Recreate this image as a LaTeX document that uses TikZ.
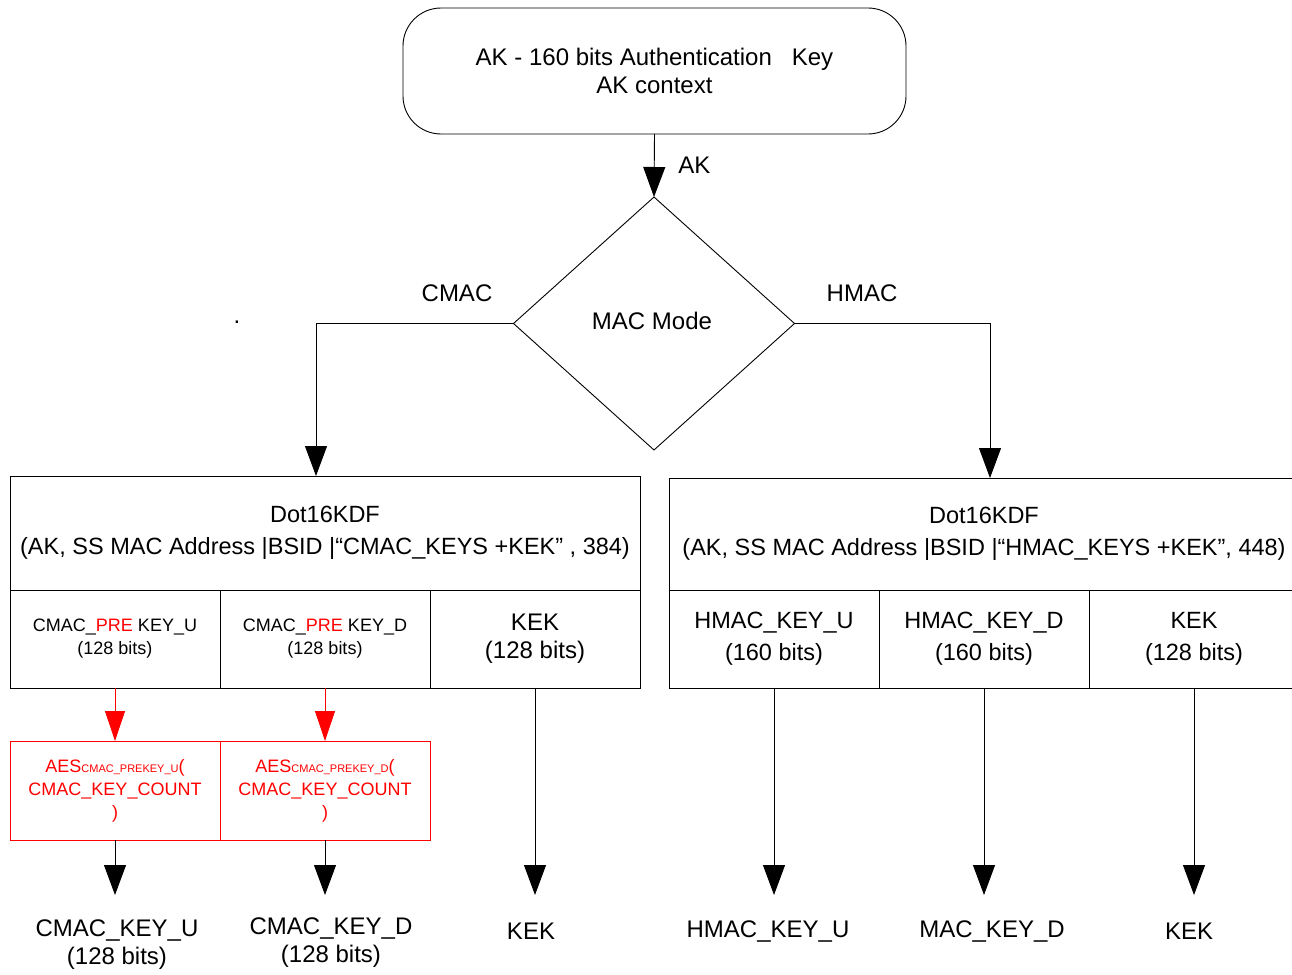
\documentclass[tikz,border=0pt]{standalone}
\usepackage{fontspec}
\setmainfont{Liberation Sans}
\usetikzlibrary{arrows.meta,shapes.geometric}
\begin{document}
\begin{tikzpicture}[x=1pt,y=-1pt,
  every node/.style={inner sep=0pt, outer sep=0pt, align=center},
  big/.style={font=\fontsize{24}{28}\selectfont},
  bigwide/.style={font=\fontsize{23.5}{32}\selectfont},
  small/.style={font=\fontsize{18}{23}\selectfont},
  box/.style={draw, line width=0.9pt, rectangle, anchor=north west},
  cell/.style={box, minimum width=210pt, minimum height=98pt},
  redcell/.style={box, draw=red, text=red, small, minimum width=210pt, minimum height=99pt},
  arr/.style={draw, line width=0.9pt, -{Triangle[length=30pt,width=22pt]}},
  rarr/.style={draw=red, line width=0.9pt, -{Triangle[length=30pt,width=20pt]}, red}]
\useasboundingbox (0,0) rectangle (1292,974);

% top context box
\node[draw, line width=0.9pt, rounded corners=38pt, minimum width=503pt, minimum height=126pt, big] (ak) at (654.5,71)
  {AK - 160 bits Authentication\ \ \ Key\\AK context};

% diamond
\node[draw, line width=0.9pt, diamond, minimum width=281pt, minimum height=253pt] (mode) at (654,323.5) {};
\node[big] (modetxt) at (652,321) {MAC Mode};

\draw[arr] (ak.south) -- (mode.north) node[pos=0.5, right=24pt, big] (aklbl) {AK};

\node[big] (cmaclbl) at (457,293) {CMAC};
\node[big] (hmaclbl) at (862,293) {HMAC};
\node[big] (dot) at (237,322) {.};

% left KDF block
\node[box, minimum width=630pt, minimum height=114pt, bigwide] (lhead) at (10,476)
  {Dot16KDF\\(AK, SS MAC Address |BSID |“CMAC\_KEYS +KEK” , 384)};
\node[cell, small] (cpu) at (10,590) {CMAC\_{\color{red}PRE} KEY\_U\\(128 bits)};
\node[cell, small] (cpd) at (220,590) {CMAC\_{\color{red}PRE} KEY\_D\\(128 bits)};
\node[cell, big] (ckek) at (430,590) {KEK\\(128 bits)};

% right KDF block
\node[box, minimum width=630pt, minimum height=112pt, bigwide] (rhead) at (669,478)
  {Dot16KDF\\(AK, SS MAC Address |BSID |“HMAC\_KEYS +KEK”, 448)};
\node[cell, bigwide] (hku) at (669,590) {HMAC\_KEY\_U\\(160 bits)};
\node[cell, bigwide] (hkd) at (879,590) {HMAC\_KEY\_D\\(160 bits)};
\node[cell, bigwide] (hkek) at (1089,590) {KEK\\(128 bits)};

% branches
\draw[arr] (mode.west) -| ([xshift=-9pt]lhead.north);
\draw[arr] (mode.east) -| ([xshift=6pt]rhead.north);

% red AES boxes
\node[redcell] (aesu) at (10,741) {AES{\fontsize{11}{12}\selectfont CMAC\_PREKEY\_U}(\\CMAC\_KEY\_COUNT\\)};
\node[redcell] (aesd) at (220,741) {AES{\fontsize{11}{12}\selectfont CMAC\_PREKEY\_D}(\\CMAC\_KEY\_COUNT\\)};
\draw[rarr] (cpu.south) -- (aesu.north);
\draw[rarr] (cpd.south) -- (aesd.north);

% bottom labels
\node[big] (oku) at (117,945) {CMAC\_KEY\_U\\(128 bits)};
\node[big] (okd) at (331,943) {CMAC\_KEY\_D\\(128 bits)};
\node[big] (okek) at (531,931) {KEK};
\node[big] (ohu) at (768,931) {HMAC\_KEY\_U};
\node[big] (ohd) at (992,931) {MAC\_KEY\_D};
\node[big] (ohk) at (1189,931) {KEK};

\coordinate (t1) at (115,895);
\coordinate (t2) at (325,895);
\coordinate (t3) at (535,895);
\coordinate (t4) at (774,895);
\coordinate (t5) at (984,895);
\coordinate (t6) at (1194,895);

\draw[arr] (aesu.south) -- (t1);
\draw[arr] (aesd.south) -- (t2);
\draw[arr] (ckek.south) -- (t3);
\draw[arr] (hku.south) -- (t4);
\draw[arr] (hkd.south) -- (t5);
\draw[arr] (hkek.south) -- (t6);
\end{tikzpicture}
\end{document}
